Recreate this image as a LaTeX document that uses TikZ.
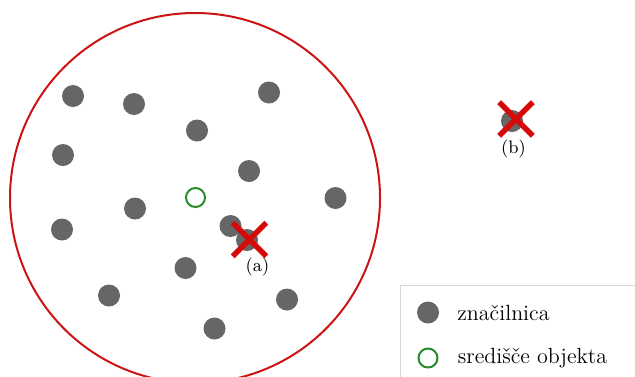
\documentclass[tikz,border=0pt]{standalone}
\usepackage{tikz}
\usetikzlibrary{shapes.misc, positioning}
\definecolor{featgray}{RGB}{102,102,102}
\definecolor{regionred}{RGB}{204,20,20}
\definecolor{crossred}{RGB}{214,10,10}
\definecolor{centergreen}{RGB}{40,140,40}
\definecolor{legendborder}{RGB}{215,215,215}
\tikzset{
  featdot/.style={
    circle, fill=featgray, inner sep=0pt, minimum size=11pt
  },
  centerring/.style={
    circle, draw=centergreen, line width=1pt, inner sep=0pt,
    minimum size=9.5pt
  },
  regioncircle/.style={
    circle, draw=regionred, line width=1pt, inner sep=0pt,
    minimum size=185pt
  },
  matchcross/.style={
    cross out, draw=crossred, line width=2.8pt, inner sep=0pt,
    minimum size=14pt
  },
  crosslabel/.style={
    font=\fontsize{9}{11}\selectfont, inner sep=1pt
  },
  legendbox/.style={
    draw=legendborder, fill=white, line width=0.5pt
  },
  legendtext/.style={
    font=\fontsize{11}{13}\selectfont, anchor=west, inner sep=0pt
  },
}

\begin{document}
\begin{tikzpicture}[x=0.5pt, y=-0.5pt]
  \useasboundingbox (0,0) rectangle (635,376);
  \clip (0,0) rectangle (635,376);

  %% region round the object centre
  \node[regioncircle] (region) at (195,198) {};
  \node[centerring] (centre) at (195.5,197.5) {};

  %% features
  \node[featdot] (f1) at (73,96) {};
  \node[featdot] (f2) at (134,104) {};
  \node[featdot] (f3) at (269,92.5) {};
  \node[featdot] (f4) at (197,130.5) {};
  \node[featdot] (f5) at (63,155) {};
  \node[featdot] (f6) at (249,171) {};
  \node[featdot] (f7) at (335.5,198) {};
  \node[featdot] (f8) at (135,208.5) {};
  \node[featdot] (f9) at (62,229.5) {};
  \node[featdot] (f10) at (230.5,226) {};
  \node[featdot] (f11) at (247,240) {};
  \node[featdot] (f12) at (185.5,268) {};
  \node[featdot] (f13) at (109,295.5) {};
  \node[featdot] (f14) at (287,299.5) {};
  \node[featdot] (f15) at (214.5,328.5) {};
  \node[featdot] (f16) at (512,121) {};

  %% rejected matches
  \node[matchcross] (xa) at (249.5,239.5) {};
  \node[matchcross] (xb) at (516,119) {};
  \node[crosslabel] (la) at (257.5,267) {(a)};
  \node[crosslabel] (lb) at (513.5,149) {(b)};

  %% legend
  \draw[legendbox] (400,285) rectangle (660,400);
  \node[featdot] (ldot) at (428,312.5) {};
  \node[legendtext, right=8.8pt of ldot] (ltext1) {značilnica};
  \node[centerring] (lring) at (428,358) {};
  \node[legendtext, right=9.5pt of lring] (ltext2) {središče objekta};

\end{tikzpicture}
\end{document}
